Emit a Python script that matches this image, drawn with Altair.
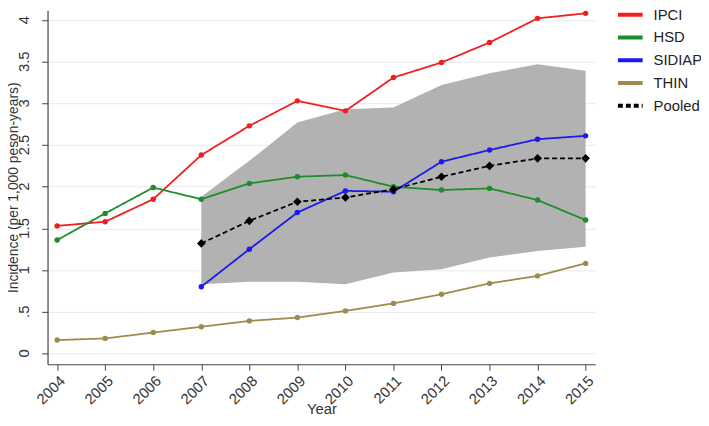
import altair as alt
import pandas as pd

years = list(range(2004, 2016))
ipci = [1.53, 1.58, 1.85, 2.38, 2.73, 3.03, 2.91, 3.31, 3.49, 3.73, 4.02, 4.08]
hsd = [1.36, 1.68, 1.99, 1.85, 2.04, 2.12, 2.14, 2.00, 1.96, 1.98, 1.84, 1.60]
sid_years = list(range(2007, 2016))
sidiap = [0.80, 1.25, 1.69, 1.95, 1.94, 2.30, 2.44, 2.57, 2.61]
thin = [0.16, 0.18, 0.25, 0.32, 0.39, 0.43, 0.51, 0.60, 0.71, 0.84, 0.93, 1.08]
pooled = [1.32, 1.59, 1.82, 1.87, 1.97, 2.12, 2.25, 2.34, 2.34]
ci_low = [0.83, 0.86, 0.86, 0.83, 0.97, 1.01, 1.15, 1.23, 1.28]
ci_high = [1.88, 2.31, 2.77, 2.93, 2.95, 3.22, 3.36, 3.47, 3.39]
y_ticks = [0, 0.5, 1, 1.5, 2, 2.5, 3, 3.5, 4]
y_tick_labels = ["0", ".5", "1", "1.5", "2", "2.5", "3", "3.5", "4"]

series_names = ["IPCI", "HSD", "SIDIAP", "THIN", "Pooled"]
series_colors = ["#f01e1e", "#1f8c2a", "#1a1af0", "#a08a4c", "#000000"]
series_dash = [[1, 0], [1, 0], [1, 0], [1, 0], [5, 3]]

rows = []
for name, xs, vals in [("IPCI", years, ipci), ("HSD", years, hsd),
                       ("SIDIAP", sid_years, sidiap), ("THIN", years, thin),
                       ("Pooled", sid_years, pooled)]:
    for x, v in zip(xs, vals):
        rows.append({"year": x, "value": v, "series": name})
df = pd.DataFrame(rows)
band = pd.DataFrame({"year": sid_years, "lo": ci_low, "hi": ci_high})
ylab = pd.DataFrame({"tick": y_ticks, "label": y_tick_labels})

FONT = "Liberation Sans"
LEFT = 40
W, H = 554, 358
xscale = alt.Scale(domain=[2003.8, 2015.2], nice=False, zero=False)
yscale = alt.Scale(domain=[-0.13, 4.116], nice=False, zero=False)

x_enc = alt.X("year:Q", scale=xscale, title="Year",
              axis=alt.Axis(values=years, format="d", labelAngle=-45, grid=False,
                            titleX=W / 2, titleY=50,
                            titleBaseline="alphabetic", titleAlign="center"))
y_enc = alt.Y("value:Q", scale=yscale, title="Incidence (per 1,000 peson-years)",
              axis=alt.Axis(values=y_ticks, labels=False, grid=True,
                            titleX=-30, titleY=H / 2, titleAngle=-90,
                            titleBaseline="alphabetic", titleAlign="center",
                            titleFontSize=14))

area = alt.Chart(band).mark_area(color="#b2b2b2", opacity=1).encode(
    x=alt.X("year:Q", scale=xscale),
    y=alt.Y("lo:Q", scale=yscale),
    y2="hi:Q",
)

leg = dict(orient="none", legendX=575, legendY=-10, padding=0,
           symbolType="stroke", symbolStrokeWidth=4, symbolSize=625,
           labelFontSize=15, labelOffset=9, rowPadding=-5,
           labelFont=FONT, labelColor="#222222")
color_enc = alt.Color("series:N", scale=alt.Scale(domain=series_names, range=series_colors),
                      title=None, legend=alt.Legend(**leg))
dash_enc = alt.StrokeDash("series:N", scale=alt.Scale(domain=series_names, range=series_dash),
                          title=None, legend=alt.Legend(**leg))

lines = alt.Chart(df).mark_line(strokeWidth=1.8).encode(
    x=x_enc, y=y_enc, color=color_enc, strokeDash=dash_enc, detail="series:N"
)

pts = alt.Chart(df[df.series != "Pooled"]).mark_circle(size=30, opacity=1).encode(
    x=alt.X("year:Q", scale=xscale), y=alt.Y("value:Q", scale=yscale),
    color=alt.Color("series:N", scale=alt.Scale(domain=series_names, range=series_colors))
)

pooled_pts = alt.Chart(df[df.series == "Pooled"]).mark_point(
    shape="diamond", filled=True, size=75, color="black", opacity=1
).encode(x=alt.X("year:Q", scale=xscale), y=alt.Y("value:Q", scale=yscale))

ytext = alt.Chart(ylab).mark_text(
    angle=270, align="center", baseline="middle", fontSize=15, font=FONT,
    color="#333333"
).encode(x=alt.value(-24), y=alt.Y("tick:Q", scale=yscale), text="label:N")

chart = alt.layer(area, lines, pts, pooled_pts, ytext).properties(
    width=W, height=H,
    autosize=alt.AutoSizeParams(type="none"),
    padding={"left": LEFT, "top": 0, "right": 701 - LEFT - W, "bottom": 52},
).configure_view(stroke=None).configure_axis(
    labelFont=FONT, titleFont=FONT, labelFontSize=15, titleFontSize=15,
    titleFontWeight="normal", labelColor="#333333", titleColor="#333333",
    domainColor="#444444", tickColor="#444444", tickSize=6,
    gridColor="#e4eaef", gridWidth=1
).configure_axisY(domainWidth=1.2).configure_axisX(labelPadding=3)

chart.save("out.html", embed_options={"renderer": "svg", "actions": False})
